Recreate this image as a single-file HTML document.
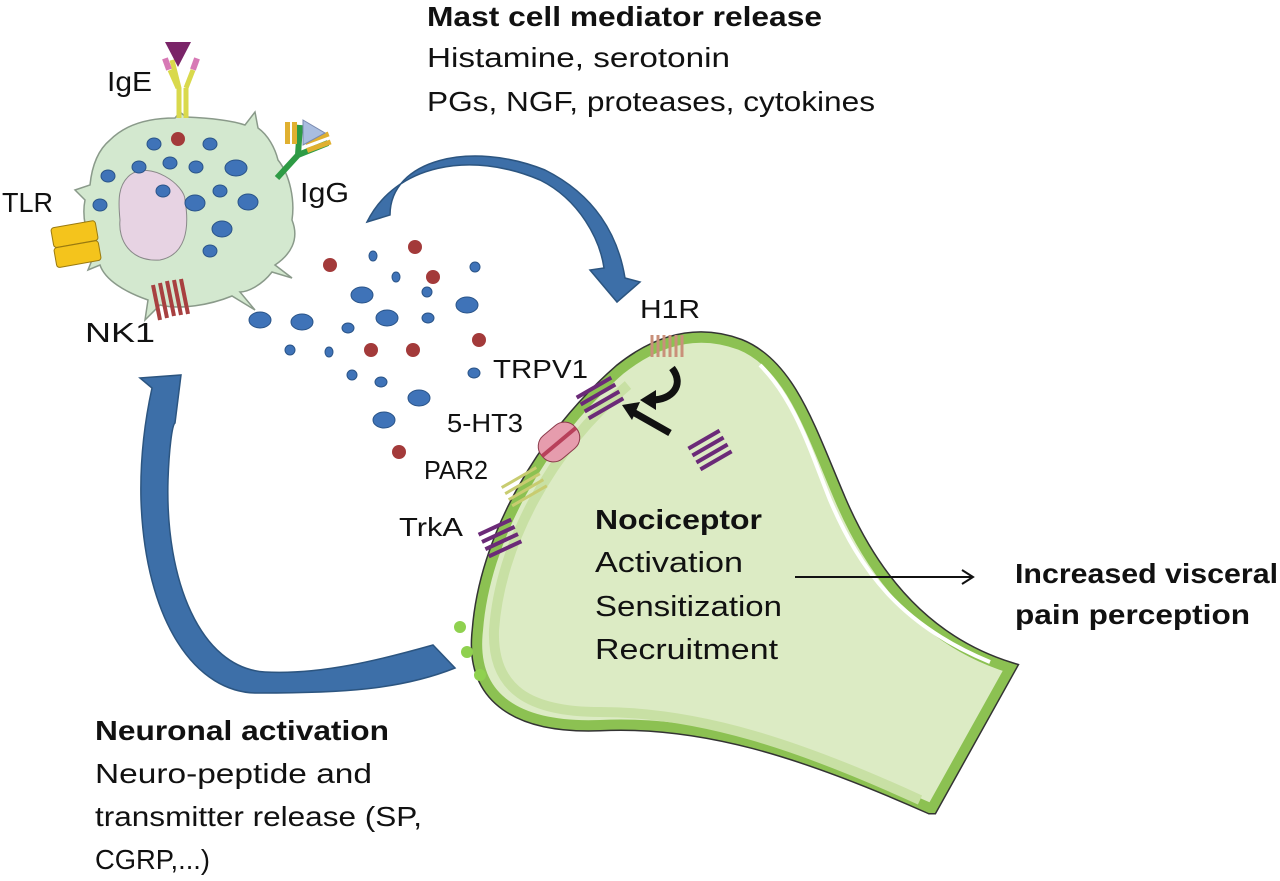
<!DOCTYPE html>
<html><head><meta charset="utf-8"><style>
html,body{margin:0;padding:0;background:#fff;}
svg{display:block;}
text{font-family:"Liberation Sans",sans-serif;fill:#111;}
</style></head><body>
<svg width="1280" height="881" viewBox="0 0 1280 881" xmlns="http://www.w3.org/2000/svg">
<!-- Nociceptor -->
<path d="M930,808 C800,750 700,720 600,725 C520,728 470,700 478,630 C485,540 540,440 620,370 C660,338 700,330 740,345 C790,365 810,430 840,500 C870,570 920,640 1010,668 L932,808 Z" fill="#dcebc4" stroke="#333" stroke-width="13"/>
<path d="M930,808 C800,750 700,720 600,725 C520,728 470,700 478,630 C485,540 540,440 620,370 C660,338 700,330 740,345 C790,365 810,430 840,500 C870,570 920,640 1010,668 L932,808 Z" fill="#dcebc4" stroke="#8cc152" stroke-width="10"/>
<path d="M920,800 C800,745 700,712 600,712 C530,712 492,690 494,630 C500,545 550,450 628,385" fill="none" stroke="#c8e0a4" stroke-width="10"/>
<path d="M760,365 C795,400 810,450 830,500 C860,570 900,625 990,662" fill="none" stroke="#fff" stroke-width="4"/>
<!-- green dots -->
<circle cx="460" cy="627" r="6" fill="#8fd14f"/><circle cx="467" cy="652" r="6" fill="#8fd14f"/><circle cx="480" cy="675" r="6" fill="#8fd14f"/>
<!-- Blue arrows -->
<path d="M367,222 C395,165 470,150 540,180 C580,200 600,240 604,268 L590,270 L617,302 L640,282 L625,278 C618,235 595,195 545,170 C470,140 390,160 390,215 Z" fill="#3d6fa8" stroke="#2c5580" stroke-width="1.5"/>
<path d="M433,645 C380,660 320,675 265,672 C200,668 165,580 168,480 C169,450 172,425 175,423 L181,375 L140,378 L152,388 C145,420 140,460 141,500 C145,620 195,695 260,693 C340,693 400,690 455,668 Z" fill="#3d6fa8" stroke="#2c5580" stroke-width="1.5"/>
<!-- Mast cell -->
<path d="M110,140 C130,120 160,118 175,118 L180,112 L186,117 C210,118 230,120 245,125 L255,112 L258,128 C268,135 275,148 278,160 C290,175 295,200 292,220 C300,240 290,255 275,265 L292,278 L272,272 C262,285 248,292 240,292 L255,310 L232,296 C210,305 180,310 160,305 L145,320 L148,300 C125,292 105,280 100,265 L88,270 L96,250 C85,235 82,215 85,200 L75,190 L90,185 C92,165 98,150 110,140 Z" fill="#d3e8cf" stroke="#8a9a8a" stroke-width="1.5"/>
<path d="M130,175 C150,160 185,185 185,200 C190,230 185,255 160,260 C130,262 118,240 120,220 C118,200 118,185 130,175 Z" fill="#e7d3e3" stroke="#888" stroke-width="1"/>
<g fill="#3f73b8" stroke="#2a5488" stroke-width="1">
<ellipse cx="154" cy="144" rx="7" ry="6"/><ellipse cx="210" cy="144" rx="7" ry="6"/><ellipse cx="139" cy="167" rx="7" ry="6"/><ellipse cx="170" cy="163" rx="7" ry="6"/><ellipse cx="196" cy="167" rx="7" ry="6"/><ellipse cx="236" cy="168" rx="11" ry="8"/><ellipse cx="108" cy="176" rx="7" ry="6"/><ellipse cx="163" cy="191" rx="7" ry="6"/><ellipse cx="220" cy="191" rx="7" ry="6"/><ellipse cx="195" cy="203" rx="10" ry="8"/><ellipse cx="248" cy="202" rx="10" ry="8"/><ellipse cx="100" cy="205" rx="7" ry="6"/><ellipse cx="222" cy="229" rx="10" ry="8"/><ellipse cx="210" cy="251" rx="7" ry="6"/>
</g>
<circle cx="178" cy="139" r="7" fill="#a33a3a"/>
<!-- IgE -->
<path d="M172,60 L179,88 L179,118 M178,88 L170,70" stroke="#d9d94c" stroke-width="5" fill="none"/>
<path d="M186,88 L186,118 M186,88 L193,70" stroke="#d9d94c" stroke-width="5" fill="none"/>
<rect x="164" y="58" width="6" height="12" fill="#d779b5" transform="rotate(-20 167 64)"/>
<rect x="192" y="58" width="6" height="12" fill="#d779b5" transform="rotate(20 195 64)"/>
<polygon points="165,42 191,42 178,67" fill="#7a2468"/>
<!-- IgG -->
<path d="M277,178 L298,155 L300,125 M298,155 L328,143" stroke="#2e9b45" stroke-width="6" fill="none"/>
<rect x="285" y="122" width="5" height="22" fill="#e0b030"/><rect x="292" y="122" width="5" height="22" fill="#e0b030"/>
<rect x="305" y="140" width="25" height="5" fill="#e0b030" transform="rotate(-20 305 142)"/><rect x="307" y="148" width="25" height="5" fill="#e0b030" transform="rotate(-20 307 150)"/>
<polygon points="303,120 325,133 303,145" fill="#a9bde0" stroke="#7a8ab0"/>
<!-- TLR -->
<rect x="52" y="224" width="45" height="20" rx="3" fill="#f4c41c" stroke="#9a7a10" transform="rotate(-10 75 234)"/>
<rect x="55" y="244" width="45" height="20" rx="3" fill="#f4c41c" stroke="#9a7a10" transform="rotate(-10 78 254)"/>
<!-- NK1 -->
<g stroke="#a84040" stroke-width="4"><line x1="153" y1="285" x2="160" y2="320"/><line x1="160" y1="283" x2="167" y2="318"/><line x1="167" y1="281" x2="174" y2="316"/><line x1="174" y1="280" x2="181" y2="315"/><line x1="181" y1="279" x2="188" y2="314"/></g>
<!-- released granules -->
<g fill="#3f73b8" stroke="#2a5488" stroke-width="1">
<ellipse cx="373" cy="256" rx="4" ry="5"/><ellipse cx="396" cy="277" rx="4" ry="5"/><ellipse cx="475" cy="267" rx="5" ry="5"/><ellipse cx="362" cy="295" rx="11" ry="8"/><ellipse cx="427" cy="292" rx="5" ry="5"/><ellipse cx="467" cy="305" rx="11" ry="8"/><ellipse cx="260" cy="320" rx="11" ry="8"/><ellipse cx="302" cy="322" rx="11" ry="8"/><ellipse cx="348" cy="328" rx="6" ry="5"/><ellipse cx="387" cy="318" rx="11" ry="8"/><ellipse cx="428" cy="318" rx="6" ry="5"/><ellipse cx="290" cy="350" rx="5" ry="5"/><ellipse cx="329" cy="352" rx="4" ry="5"/><ellipse cx="352" cy="375" rx="5" ry="5"/><ellipse cx="381" cy="382" rx="6" ry="5"/><ellipse cx="474" cy="373" rx="6" ry="5"/><ellipse cx="419" cy="398" rx="11" ry="8"/><ellipse cx="384" cy="420" rx="11" ry="8"/>
</g>
<g fill="#a33a3a"><circle cx="330" cy="265" r="7"/><circle cx="415" cy="247" r="7"/><circle cx="433" cy="277" r="7"/><circle cx="479" cy="340" r="7"/><circle cx="371" cy="350" r="7"/><circle cx="413" cy="350" r="7"/><circle cx="399" cy="452" r="7"/></g>
<!-- receptors on nociceptor -->
<g stroke="#c9907a" stroke-width="3"><line x1="652" y1="335" x2="652" y2="357"/><line x1="658" y1="335" x2="658" y2="357"/><line x1="664" y1="335" x2="664" y2="357"/><line x1="670" y1="335" x2="670" y2="357"/><line x1="676" y1="335" x2="676" y2="357"/><line x1="682" y1="335" x2="682" y2="357"/></g>
<g stroke="#6b2a78" stroke-width="4">
<g transform="translate(600,398) rotate(-30)"><line x1="-20" y1="-12" x2="20" y2="-12"/><line x1="-20" y1="-4" x2="20" y2="-4"/><line x1="-20" y1="4" x2="20" y2="4"/><line x1="-20" y1="12" x2="20" y2="12"/></g>
<g transform="translate(500,538) rotate(-25)"><line x1="-18" y1="-12" x2="18" y2="-12"/><line x1="-18" y1="-4" x2="18" y2="-4"/><line x1="-18" y1="4" x2="18" y2="4"/><line x1="-18" y1="12" x2="18" y2="12"/></g>
<g transform="translate(710,450) rotate(-30)"><line x1="-18" y1="-12" x2="18" y2="-12"/><line x1="-18" y1="-4" x2="18" y2="-4"/><line x1="-18" y1="4" x2="18" y2="4"/><line x1="-18" y1="12" x2="18" y2="12"/></g>
</g>
<g stroke="#c8cc70" stroke-width="3" transform="translate(525,488) rotate(-30)"><line x1="-20" y1="-12" x2="20" y2="-12"/><line x1="-20" y1="-5" x2="20" y2="-5"/><line x1="-20" y1="2" x2="20" y2="2"/><line x1="-20" y1="9" x2="20" y2="9"/></g>
<g transform="translate(559,442) rotate(-40)"><rect x="-22" y="-15" width="44" height="30" rx="14" fill="#e69cad" stroke="#8a3a4a"/><line x1="-22" y1="0" x2="22" y2="0" stroke="#b8405a" stroke-width="4"/></g>
<!-- black arrows -->
<path d="M672,368 C685,385 672,400 652,400" fill="none" stroke="#111" stroke-width="7"/>
<polygon points="640,400 656,390 656,410" fill="#111"/>
<line x1="670" y1="433" x2="633" y2="412" stroke="#111" stroke-width="7"/>
<polygon points="622,405 640,402 632,420" fill="#111"/>
<line x1="795" y1="577" x2="972" y2="577" stroke="#111" stroke-width="2"/>
<path d="M962,570 L973,577 L962,584" fill="none" stroke="#111" stroke-width="2"/>
<!-- text -->
<g lengthAdjust="spacingAndGlyphs">
<text x="427" y="26" font-size="28" font-weight="bold" textLength="395" lengthAdjust="spacingAndGlyphs">Mast cell mediator release</text>
<text x="427" y="67" font-size="28" textLength="303" lengthAdjust="spacingAndGlyphs">Histamine, serotonin</text>
<text x="427" y="111" font-size="28" textLength="448" lengthAdjust="spacingAndGlyphs">PGs, NGF, proteases, cytokines</text>
<text x="107" y="91" font-size="28" textLength="45" lengthAdjust="spacingAndGlyphs">IgE</text>
<text x="300" y="202" font-size="28" textLength="49" lengthAdjust="spacingAndGlyphs">IgG</text>
<text x="2" y="212" font-size="28" textLength="51" lengthAdjust="spacingAndGlyphs">TLR</text>
<text x="85" y="342" font-size="28" textLength="70" lengthAdjust="spacingAndGlyphs">NK1</text>
<text x="640" y="318" font-size="26" textLength="60" lengthAdjust="spacingAndGlyphs">H1R</text>
<text x="493" y="378" font-size="26" textLength="95" lengthAdjust="spacingAndGlyphs">TRPV1</text>
<text x="447" y="432" font-size="26" textLength="76" lengthAdjust="spacingAndGlyphs">5-HT3</text>
<text x="424" y="479" font-size="26" textLength="64" lengthAdjust="spacingAndGlyphs">PAR2</text>
<text x="399" y="536" font-size="26" textLength="64" lengthAdjust="spacingAndGlyphs">TrkA</text>
<text x="595" y="529" font-size="28" font-weight="bold" textLength="167" lengthAdjust="spacingAndGlyphs">Nociceptor</text>
<text x="595" y="572" font-size="29" textLength="148" lengthAdjust="spacingAndGlyphs">Activation</text>
<text x="595" y="616" font-size="29" textLength="187" lengthAdjust="spacingAndGlyphs">Sensitization</text>
<text x="595" y="659" font-size="29" textLength="183" lengthAdjust="spacingAndGlyphs">Recruitment</text>
<text x="1015" y="583" font-size="28" font-weight="bold" textLength="263" lengthAdjust="spacingAndGlyphs">Increased visceral</text>
<text x="1015" y="624" font-size="28" font-weight="bold" textLength="235" lengthAdjust="spacingAndGlyphs">pain perception</text>
<text x="95" y="740" font-size="28" font-weight="bold" textLength="294" lengthAdjust="spacingAndGlyphs">Neuronal activation</text>
<text x="95" y="783" font-size="28" textLength="277" lengthAdjust="spacingAndGlyphs">Neuro-peptide and</text>
<text x="95" y="826" font-size="28" textLength="327" lengthAdjust="spacingAndGlyphs">transmitter release (SP,</text>
<text x="95" y="869" font-size="28" textLength="115" lengthAdjust="spacingAndGlyphs">CGRP,...)</text>
</g>
</svg>
</body></html>
